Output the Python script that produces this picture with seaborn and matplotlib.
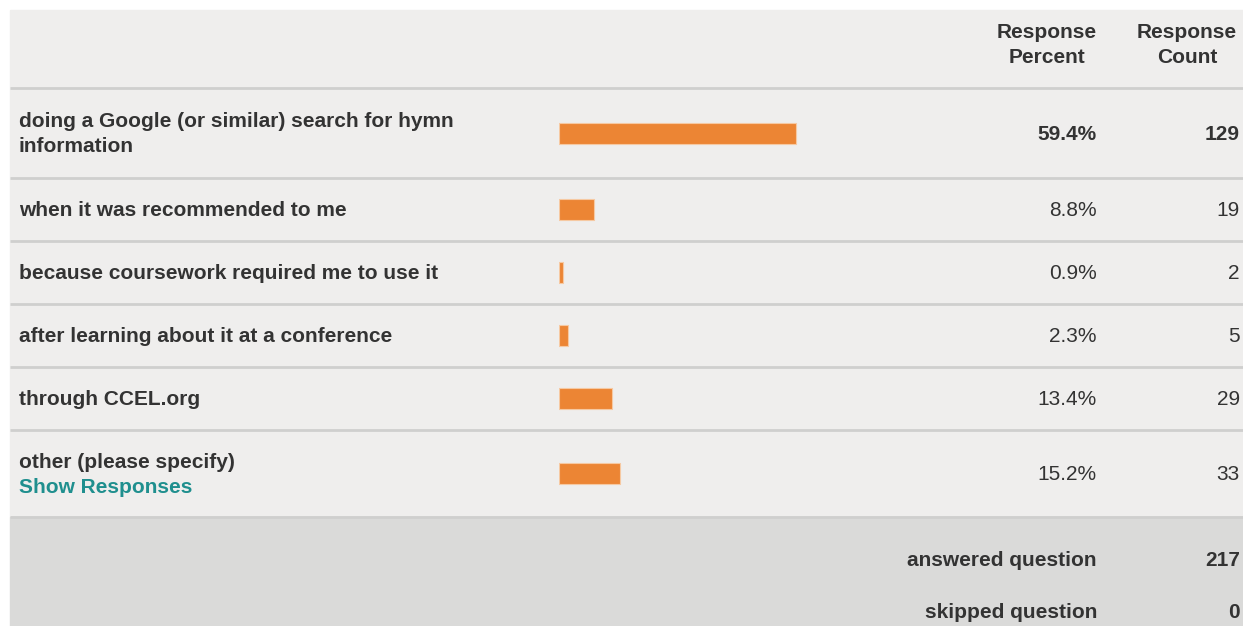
import matplotlib.pyplot as plt
import seaborn as sns
import pandas as pd
from matplotlib.patches import Rectangle

# survey answers, percents, counts
answers = [
    "doing a Google (or similar) search for hymn\ninformation",
    "when it was recommended to me",
    "because coursework required me to use it",
    "after learning about it at a conference",
    "through CCEL.org",
    "other (please specify)",
]
percents = [59.4, 8.8, 0.9, 2.3, 13.4, 15.2]
counts = [129, 19, 2, 5, 29, 33]
footer_labels = ["answered question", "skipped question"]
footer_values = [217, 0]

# layout in pixels
W, H = 1243, 626
left, top = 10, 10
header_bottom = 88
row_heights = [90, 63, 63, 63, 63, 87]
bar_x0, bar_span = 559, 399          # 0% .. 100%
pct_right, cnt_right = 1097, 1240

row_edges = [header_bottom]
for h in row_heights:
    row_edges.append(row_edges[-1] + h)
centers = [(a + b) / 2 for a, b in zip(row_edges[:-1], row_edges[1:])]

sns.set_theme(style='white')
plt.rcParams['font.family'] = ['Liberation Sans', 'DejaVu Sans']

txt = '#333333'
fs = 15

fig = plt.figure(figsize=(W / 100, H / 100), dpi=100)
fig.patch.set_facecolor('white')
bg = fig.add_axes([0, 0, 1, 1])
bg.set_xlim(0, W)
bg.set_ylim(H, 0)
bg.axis('off')

# table and footer backgrounds
bg.add_patch(Rectangle((left, top), W - left, row_edges[-1] - top, color='#efeeed', zorder=0))
bg.add_patch(Rectangle((left, row_edges[-1]), W - left, H - row_edges[-1], color='#dadad9', zorder=0))
for y in row_edges:
    bg.plot([left, W], [y, y], color='#cfcfce', lw=2, zorder=1, solid_capstyle='butt')

# header
hy = (top + header_bottom) / 2 - 4
bg.text(1047, hy, "Response\nPercent", ha='center', va='center', fontsize=fs,
        fontweight='bold', color=txt, linespacing=1.4)
bg.text(1187, hy, "Response\nCount", ha='center', va='center', fontsize=fs,
        fontweight='bold', color=txt, linespacing=1.4)

# rows
for i, (lab, p, c, cy) in enumerate(zip(answers, percents, counts, centers)):
    w = 'bold' if p == max(percents) else 'normal'
    if lab.startswith('other'):
        bg.text(19, cy - 11, lab, ha='left', va='center', fontsize=fs, fontweight='bold', color=txt)
        bg.text(19, cy + 14, "Show Responses", ha='left', va='center', fontsize=fs,
                fontweight='bold', color='#1f8f8e')
    else:
        bg.text(19, cy + 1, lab, ha='left', va='center', fontsize=fs, fontweight='bold',
                color=txt, linespacing=1.4)
    bg.text(pct_right, cy + 1, f"{p:.1f}%", ha='right', va='center', fontsize=fs,
            fontweight=w, color=txt)
    bg.text(cnt_right, cy + 1, str(c), ha='right', va='center', fontsize=fs,
            fontweight=w, color=txt)

# footer
for k, (lab, v) in enumerate(zip(footer_labels, footer_values)):
    fy = 560 + 53 * k
    bg.text(pct_right, fy, lab, ha='right', va='center', fontsize=fs, fontweight='bold', color=txt)
    bg.text(cnt_right, fy, str(v), ha='right', va='center', fontsize=fs, fontweight='bold', color=txt)

# bars
bax = fig.add_axes([bar_x0 / W, 0, bar_span / W, 1])
df = pd.DataFrame({'percent': percents, 'pos': centers})
sns.barplot(data=df, x='percent', y='pos', orient='h', native_scale=True,
            width=21 / 63, color='#ec8534', saturation=1, errorbar=None,
            edgecolor='#f6c9a2', linewidth=0.8, ax=bax)
bax.set_xlim(0, 100)
bax.set_ylim(H, 0)
bax.patch.set_alpha(0)
bax.axis('off')

fig.savefig('out.png', dpi=100)
